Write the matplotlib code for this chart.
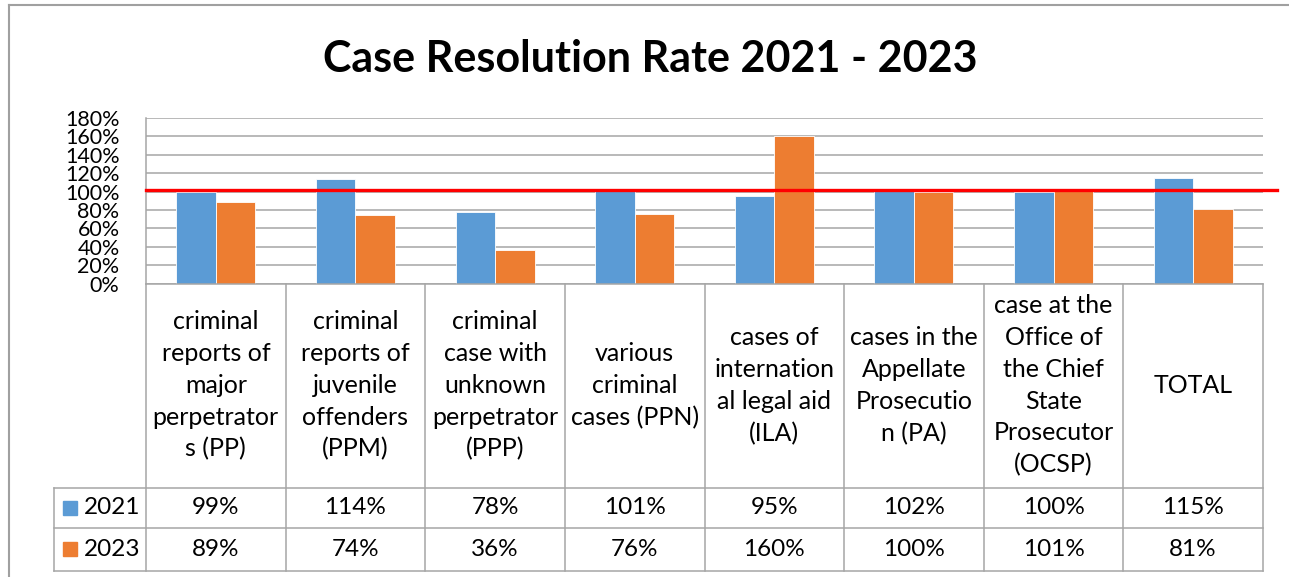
import matplotlib.pyplot as plt
import numpy as np

plt.rcParams['font.family'] = ['Lato', 'DejaVu Sans']

# Data
categories = [
    'criminal\nreports of\nmajor\nperpetrator\ns (PP)',
    'criminal\nreports of\njuvenile\noffenders\n(PPM)',
    'criminal\ncase with\nunknown\nperpetrator\n(PPP)',
    'various\ncriminal\ncases (PPN)',
    'cases of\ninternation\nal legal aid\n(ILA)',
    'cases in the\nAppellate\nProsecutio\nn (PA)',
    'case at the\nOffice of\nthe Chief\nState\nProsecutor\n(OCSP)',
    'TOTAL',
]
series_names = ['2021', '2023']
rate_2021 = [99, 114, 78, 101, 95, 102, 100, 115]
rate_2023 = [89, 74, 36, 76, 160, 100, 101, 81]
y_ticks = [0, 20, 40, 60, 80, 100, 120, 140, 160, 180]
target_line = 102

BLUE = '#5B9BD5'
ORANGE = '#ED7D31'
GRID = '#A6A6A6'
W, H = 1289, 577

fig = plt.figure(figsize=(W / 100, H / 100), dpi=100)

# plot area (pixel layout from the reference)
left, right, top, bottom = 146, 1263, 118, 283.5
ax = fig.add_axes([left / W, 1 - bottom / H, (right - left) / W, (bottom - top) / H])

x = np.arange(len(categories))
bar_w = 0.283
series = [rate_2021, rate_2023]
colors = [BLUE, ORANGE]
for i, (vals, col) in enumerate(zip(series, colors)):
    ax.bar(x + (i - 0.5) * bar_w, vals, width=bar_w, color=col,
           edgecolor='white', linewidth=0.6, zorder=2)

ax.set_xlim(-0.5, len(categories) - 0.5)
ax.set_ylim(0, 180)
ax.set_yticks(y_ticks)
ax.set_yticklabels([f'{t}%' for t in y_ticks])
ax.tick_params(axis='y', length=0, pad=19, labelsize=15.5)
ax.tick_params(axis='x', length=0, labelbottom=False)
ax.grid(axis='y', color=GRID, linewidth=1.1, zorder=0)
for s in ['top', 'right', 'bottom']:
    ax.spines[s].set_visible(False)
ax.spines['left'].set_color(GRID)
ax.spines['left'].set_linewidth(1.1)

# red reference line, runs a bit past the plot area
ax.axhline(target_line, xmin=0, xmax=1.0125, color='red', linewidth=2.4,
           clip_on=False, zorder=3)

# data table below the plot
tbl_bottom = 570.5
tax = fig.add_axes([left / W, 1 - tbl_bottom / H, (right - left) / W, (tbl_bottom - bottom) / H],
                   sharex=ax)
tax.set_ylim(tbl_bottom, bottom)
tax.axis('off')
row_edges = [bottom, 487.5, 528, tbl_bottom]
px = 1.0 / ((right - left) / len(categories))  # data units per pixel
leg_left = -0.5 + (54 - left) * px

line_kw = dict(color=GRID, linewidth=1.1, clip_on=False)
# horizontal lines
tax.plot([-0.5, len(categories) - 0.5], [row_edges[0]] * 2, **line_kw)
for yy in row_edges[1:]:
    tax.plot([leg_left, len(categories) - 0.5], [yy, yy], **line_kw)
# vertical lines
for k in range(len(categories) + 1):
    tax.plot([k - 0.5, k - 0.5], [row_edges[0], row_edges[-1]], **line_kw)
tax.plot([leg_left, leg_left], [row_edges[1], row_edges[-1]], **line_kw)

cat_mid = (row_edges[0] + row_edges[1]) / 2
for i, cat in enumerate(categories):
    tax.text(i, cat_mid, cat, ha='center', va='center', fontsize=18,
             linespacing=1.46)

for r, (name, vals, col) in enumerate(zip(series_names, series, colors)):
    ymid = (row_edges[r + 1] + row_edges[r + 2]) / 2
    tax.plot([-0.5 + (70 - left) * px], [ymid], marker='s', markersize=10.5,
             color=col, linestyle='none', clip_on=False)
    tax.text(-0.5 + (84 - left) * px, ymid, name, ha='left', va='center',
             fontsize=17.5)
    for i, v in enumerate(vals):
        tax.text(i, ymid, f'{v}%', ha='center', va='center', fontsize=17.5)

# title
fig.text(650 / W, 1 - 59 / H, 'Case Resolution Rate 2021 - 2023',
         ha='center', va='center', fontsize=31, fontweight='bold')

# outer chart border (cut off at the right and bottom in the reference)
fig.add_artist(plt.Line2D([9 / W, 9 / W], [0, 1 - 5 / H], color='#A0A0A0',
                          linewidth=1.5, transform=fig.transFigure))
fig.add_artist(plt.Line2D([9 / W, 1], [1 - 5 / H, 1 - 5 / H], color='#A0A0A0',
                          linewidth=1.5, transform=fig.transFigure))

fig.savefig('out.png', dpi=100, facecolor='white')
